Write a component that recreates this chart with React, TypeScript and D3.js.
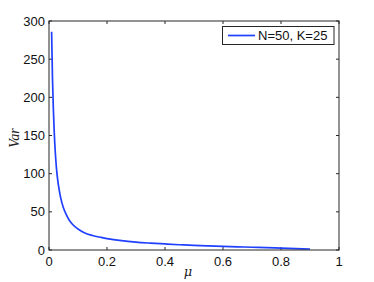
import React from "react";
import * as d3 from "d3";

const muValues = [0.009, 0.012, 0.015, 0.018, 0.022, 0.026, 0.03, 0.035, 0.04, 0.05, 0.06, 0.07, 0.08, 0.1, 0.12, 0.15, 0.18, 0.2, 0.25, 0.3, 0.35, 0.4, 0.45, 0.5, 0.55, 0.6, 0.65, 0.7, 0.75, 0.8, 0.85, 0.9];
const varValues = [286, 225, 185, 155, 126, 106, 92, 79, 69, 55, 46, 39, 34, 27.5, 23, 19, 16.5, 15, 12.2, 10.3, 9, 7.9, 6.9, 6.0, 5.4, 4.8, 4.2, 3.6, 3.05, 2.5, 1.9, 1.3];
const xTicks = [0, 0.2, 0.4, 0.6, 0.8, 1];
const yTicks = [0, 50, 100, 150, 200, 250, 300];
const legendLabel = "N=50, K=25";
const xLabel = "μ";
const yLabel = "Var";

export default function App() {
  const W = 374, H = 282;
  const left = 49, right = 339, top = 21, bottom = 250;
  const x = d3.scaleLinear().domain([0, 1]).range([left, right]);
  const y = d3.scaleLinear().domain([0, 300]).range([bottom, top]);
  const data = muValues.map((m, i) => [m, varValues[i]] as [number, number]);
  const line = d3.line<[number, number]>().x(d => x(d[0])).y(d => y(d[1])).curve(d3.curveMonotoneX);
  const axisColor = "#262626";
  const font = "'Liberation Sans', Arial, sans-serif";
  const tl = 3;
  return (
    <svg width={W} height={H} style={{ position: "absolute", left: 0, top: 0, background: "#fff" }}>
      <rect x={0} y={0} width={W} height={H} fill="#fff" />
      <g stroke={axisColor} strokeWidth={1}>
        {xTicks.map(t => (
          <g key={"xt" + t}>
            <line x1={x(t)} x2={x(t)} y1={bottom} y2={bottom - tl} />
            <line x1={x(t)} x2={x(t)} y1={top} y2={top + tl} />
          </g>
        ))}
        {yTicks.map(t => (
          <g key={"yt" + t}>
            <line x1={left} x2={left + tl} y1={y(t)} y2={y(t)} />
            <line x1={right} x2={right - tl} y1={y(t)} y2={y(t)} />
          </g>
        ))}
      </g>
      <path d={line(data) || ""} fill="none" stroke="#2040ff" strokeWidth={1.7} />
      <rect x={left} y={top} width={right - left} height={bottom - top} fill="none" stroke={axisColor} strokeWidth={1} />
      {xTicks.map(t => (
        <text key={"xl" + t} x={x(t)} y={266} fontSize={13} fontFamily={font} textAnchor="middle" fill="#111">{t}</text>
      ))}
      {yTicks.map(t => (
        <text key={"yl" + t} x={45} y={y(t) + 4.5} fontSize={13} fontFamily={font} textAnchor="end" fill="#111">{t}</text>
      ))}
      <text x={188} y={276} fontSize={13} fontFamily="'DejaVu Serif', serif" fontStyle="italic" textAnchor="middle" fill="#222">{xLabel}</text>
      <text transform={`translate(19,138) rotate(-90)`} fontSize={14} fontFamily="'Liberation Serif', serif" fontStyle="italic" textAnchor="middle" fill="#222">{yLabel}</text>
      <rect x={222.5} y={26.5} width={111.5} height={18} fill="#fff" stroke={axisColor} strokeWidth={1} />
      <line x1={228} x2={255} y1={35.5} y2={35.5} stroke="#2040ff" strokeWidth={1.7} />
      <text x={258} y={40} fontSize={13} fontFamily={font} fill="#111">{legendLabel}</text>
    </svg>
  );
}
